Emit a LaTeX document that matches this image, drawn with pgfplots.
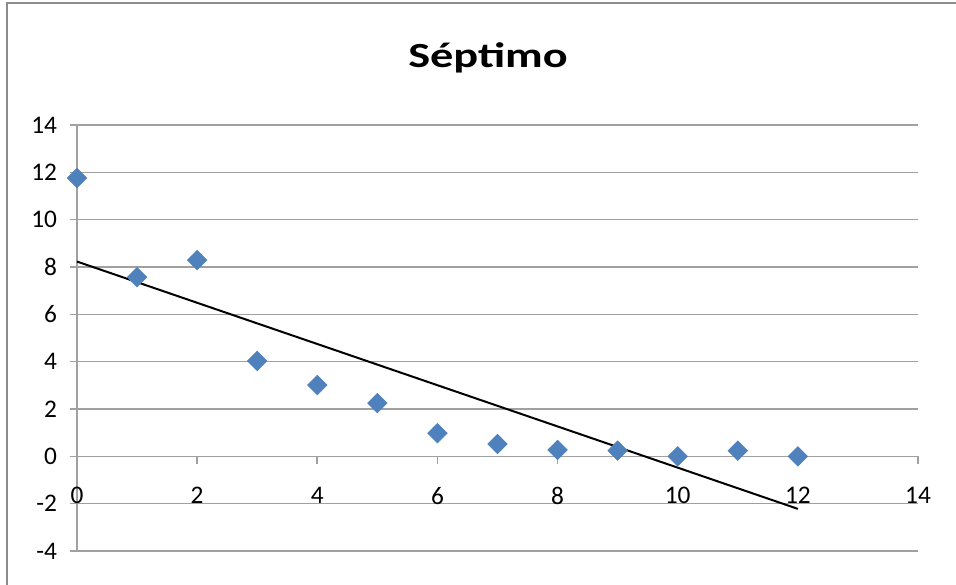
\documentclass[border=0pt]{standalone}
\usepackage{pgfplots}
\pgfplotsset{compat=1.18}
\usepackage{fontspec}
\setmainfont{Carlito}
\definecolor{gridgray}{RGB}{160,160,160}
\definecolor{bordergray}{RGB}{140,140,140}
\definecolor{markblue}{RGB}{79,129,189}
\begin{document}
\begin{tikzpicture}
\begin{scope}[x=0.75pt,y=0.75pt]
\useasboundingbox (0,0) rectangle (956,585);
\fill[white] (0,0) rectangle (956,585);
\draw[bordergray, line width=1.5pt] (7,0) -- (7,582) -- (956,582);
\node[font=\bfseries\fontsize{26.5}{30}\selectfont, anchor=base, inner sep=0pt] at (488,517) {\scalebox{1.31}[1]{Séptimo}};
\end{scope}
\begin{axis}[
 at={(57.75pt,25.5pt)}, anchor=south west, scale only axis,
 width=630.75pt, height=319.5pt,
 xmin=0, xmax=14, ymin=-4, ymax=14,
 xtick={0,2,...,14}, ytick={-4,-2,...,14},
 axis x line=middle, axis y line=left,
 hide obscured x ticks=false, hide obscured y ticks=false,
 axis line style={-, gridgray, line width=1.2pt},
 ymajorgrids, grid style={gridgray, line width=1.2pt},
 tick align=outside, major tick length=5.5pt,
 tick style={gridgray, line width=1.2pt},
 ticklabel style={font=\fontsize{19}{21}\selectfont, text=black},
 xticklabel style={yshift=-14pt},
 yticklabel style={xshift=-6pt},
 /pgf/number format/assume math mode=true,
 clip=false,
]
\addplot[only marks, mark=square*, mark size=5.2pt, mark options={rotate=45, fill=markblue, draw=markblue}]
coordinates {(0,11.76) (1,7.57) (2,8.29) (3,4.03) (4,3.01) (5,2.25) (6,0.98) (7,0.52) (8,0.27) (9,0.24) (10,0.0) (11,0.24) (12,0.0)};
\addplot[black, line width=1.5pt] coordinates {(0,8.23) (12,-2.22)};
\end{axis}
\end{tikzpicture}
\end{document}
